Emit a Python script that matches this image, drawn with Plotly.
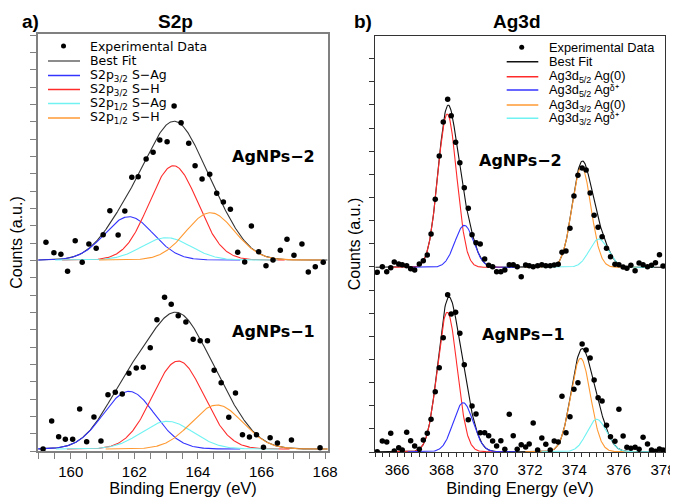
import numpy as np
import plotly.graph_objects as go

# ---------------- data: S2p (left panel) ----------------
s2p_be_np2 = [159.22, 159.47, 159.69, 159.90, 160.14, 160.36, 160.57, 160.80, 161.02, 161.23,
              161.49, 161.70, 161.92, 162.12, 162.37, 162.59, 162.80, 163.03, 163.25, 163.47,
              163.71, 163.91, 164.13, 164.37, 164.59, 164.80, 165.02, 165.25, 165.47, 165.68,
              165.91, 166.14, 166.36, 166.59, 166.80, 167.02, 167.27, 167.47, 167.69, 167.94]
s2p_cnt_np2 = [17.7, 7.3, 5.7, -11.3, 19.3, -2.3, 16, 11.7, 25.3, 49.3,
               25, 49, 82.7, 83.3, 101, 107.7, 120, 118.3, 154, 137.3,
               116.7, 94.3, 81, 85.7, 66.7, 58, 50.7, 7.7, -2, 34,
               8.3, -5.7, 0, 9.7, 20.7, 4.7, 16, -12, -6.7, -2.3]
s2p_be_np1 = [159.13, 159.40, 159.62, 159.83, 160.06, 160.28, 160.50, 160.73, 160.95, 161.17,
              161.40, 161.62, 161.83, 162.06, 162.28, 162.50, 162.71, 162.95, 163.16, 163.38,
              163.62, 163.85, 164.07, 164.30, 164.51, 164.73, 164.97, 165.18, 165.40, 165.62,
              165.84, 166.06, 166.27, 166.50, 166.94, 167.84]
s2p_cnt_np1 = [0, 28, 12.3, 9.7, 9.7, 40, 7.3, 32, 8, 54.3,
               56.7, 55, 75.7, 81, 81.7, 101.3, 129.3, 151.7, 144.7, 133.3,
               127, 109.7, 108.3, 108.3, 78.7, 66.3, 31.7, 56, 14.3, 12,
               14.3, 1.7, 11.3, 6, 9, 1.3]

s2p_comp_names = ["S2p<sub>3/2</sub> S−Ag", "S2p<sub>3/2</sub> S−H",
                  "S2p<sub>1/2</sub> S−Ag", "S2p<sub>1/2</sub> S−H"]
s2p_np2_centers = [161.83, 163.23, 163.01, 164.39]
s2p_np2_heights = [43.3, 94.3, 22.3, 47.3]
s2p_np2_fwhm = 1.8
s2p_np1_centers = [161.83, 163.38, 163.04, 164.60]
s2p_np1_heights = [57.7, 88.0, 27.7, 44.0]
s2p_np1_fwhm = 1.9

# ---------------- data: Ag3d (right panel) ----------------
ag_be = [365.10, 365.33, 365.53, 365.71, 365.87, 366.07, 366.23, 366.43, 366.61, 366.79,
         367.00, 367.18, 367.36, 367.53, 367.72, 367.90, 368.08, 368.28, 368.44, 368.64,
         368.83, 369.03, 369.21, 369.38, 369.56, 369.75, 369.95, 370.13, 370.31, 370.49,
         370.68, 370.86, 371.06, 371.24, 371.42, 371.60, 371.80, 371.96, 372.14, 372.34,
         372.53, 372.71, 372.91, 373.09, 373.27, 373.44, 373.62, 373.80, 373.98, 374.16,
         374.35, 374.53, 374.71, 374.89, 375.07, 375.25, 375.45, 375.63, 375.83, 376.01,
         376.20, 376.37, 376.55, 376.74, 376.92, 377.10, 377.30, 377.48, 377.66, 377.84,
         378.00]
ag_cnt_np2 = [-5, 0.6, -4.4, -0.4, 5.3, 3.3, 2.6, 1.6, -1.4, -2.7,
              3.3, 6.6, 12.3, 33.3, 68, 111.3, 145.3, 168, 151.6, 125,
              104.6, 79.6, 59, 32.6, 24.6, 23.3, 8.3, 2, 0.6, -4.4,
              -4.4, -2.7, 2.6, 2.6, 0.6, -9.4, 2.3, 1.6, 0.6, 1.6,
              2.6, 1.6, 1.6, 2.3, 3, 15, 16.3, 39, 71.3, 92,
              99.3, 97.3, 74.3, 52, 40, 30.6, 19, 10.6, 3, 2.6,
              0.3, -1, 2, -3.4, 4.3, 2.6, 0.6, 2, 4.6, 12.6,
              1.3]
ag_cnt_np1 = [0, 10.7, 9.7, 18.4, 0.7, 4, 1.7, 19.4, 11, 5.7,
              2.4, 11.7, 18.4, 32.4, 60, 84, 114, 157, 137.7, 139.4,
              118.4, 87, 32, 45.7, 37.7, 19, 19, 16, 10.7, 5.7,
              11, 2.4, 37.4, 16, 2.4, 7, 4.7, 7.7, 28.7, 1.7,
              13.7, 7.4, 1.7, 10.7, 9.7, 55.4, 19, 35, 62.4, 69,
              107.7, 101.7, 93.7, 71.7, 54, 50.7, 26.4, 15, 10.4, 42.4,
              15.7, 4.4, 3.4, 4.4, 2.4, 14.4, 7.7, 1.7, 0.5, 2.7,
              1.7]

ag_comp_names = ["Ag3d<sub>5/2</sub> Ag(0)", "Ag3d<sub>5/2</sub> Agᵟ⁺",
                 "Ag3d<sub>3/2</sub> Ag(0)", "Ag3d<sub>3/2</sub> Agᵟ⁺"]
ag_np2_centers = [368.26, 369.03, 374.32, 375.10]
ag_np2_heights = [153.3, 42.0, 100.6, 28.3]
ag_np2_fwhm = 1.0
ag_np1_centers = [368.26, 368.98, 374.28, 375.01]
ag_np1_heights = [139.4, 49.0, 93.4, 32.4]
ag_np1_fwhm = 1.05

sample_names = ["AgNPs−1", "AgNPs−2"]

# ---------------- styling ----------------
# the page body adds an 8 px margin, so the figure covers reference pixels 8..678 x 8..497
OFFS = 8
W, H = 678 - OFFS, 497 - OFFS
BLUE, RED, CYAN, ORANGE = "#3434ff", "#ff2b2b", "#70f2f2", "#ff9a33"
s2p_colors = [BLUE, RED, CYAN, ORANGE]
ag_colors = [RED, BLUE, ORANGE, CYAN]
S2P_OFF = {"np1": 2.0, "np2": 191.0}
AG_OFF = {"np1": 0.3, "np2": 184.7}
S2P_XR = [158.97, 168.09]
AG_XR = [365.0, 378.09]


def gauss(x, c, h, fwhm):
    s = fwhm / 2.3548
    return h * np.exp(-(x - c) ** 2 / (2 * s * s))


fig = go.Figure()


def add_spectrum(xa, ya, be, cnt, centers, heights, fwhm, colors, off, xr, span, fitcolor):
    xf = np.linspace(xr[0] + 0.02, xr[1] - 0.02, 600)
    total = np.zeros_like(xf)
    for c, h in zip(centers, heights):
        total += gauss(xf, c, h, fwhm)
    fig.add_trace(go.Scatter(x=xf, y=total + off, mode="lines", xaxis=xa, yaxis=ya,
                             line=dict(color=fitcolor, width=1.1), showlegend=False,
                             hoverinfo="skip"))
    for c, h, col in zip(centers, heights, colors):
        xc = np.linspace(max(xr[0], c - span), min(xr[1], c + span), 300)
        fig.add_trace(go.Scatter(x=xc, y=gauss(xc, c, h, fwhm) + off, mode="lines",
                                 xaxis=xa, yaxis=ya, line=dict(color=col, width=1.1),
                                 showlegend=False, hoverinfo="skip"))
    fig.add_trace(go.Scatter(x=be, y=[v + off for v in cnt], mode="markers",
                             xaxis=xa, yaxis=ya, marker=dict(color="black", size=5.5),
                             showlegend=False))


add_spectrum("x", "y", s2p_be_np2, s2p_cnt_np2, s2p_np2_centers, s2p_np2_heights, s2p_np2_fwhm,
             s2p_colors, S2P_OFF["np2"], S2P_XR, 3.5, "#333333")
add_spectrum("x", "y", s2p_be_np1, s2p_cnt_np1, s2p_np1_centers, s2p_np1_heights, s2p_np1_fwhm,
             s2p_colors, S2P_OFF["np1"], S2P_XR, 3.5, "#333333")
add_spectrum("x2", "y2", ag_be, ag_cnt_np2, ag_np2_centers, ag_np2_heights, ag_np2_fwhm,
             ag_colors, AG_OFF["np2"], AG_XR, 2.5, "#111111")
add_spectrum("x2", "y2", ag_be, ag_cnt_np1, ag_np1_centers, ag_np1_heights, ag_np1_fwhm,
             ag_colors, AG_OFF["np1"], AG_XR, 2.5, "#111111")


def px(x):
    return (x - OFFS) / W


def py(y):
    return 1 - (y - OFFS) / H


ARIAL = "Liberation Sans, Arial, sans-serif"
DEJAVU = "DejaVu Sans, Verdana, sans-serif"

axis_common = dict(showgrid=False, zeroline=False, mirror=True, showline=True,
                   ticks="outside", automargin=False)
fig.update_layout(
    template="none",
    width=W, height=H, margin=dict(l=0, r=0, t=0, b=0, autoexpand=False),
    paper_bgcolor="white", plot_bgcolor="white", showlegend=False,
    xaxis=dict(domain=[px(38), px(328)], range=S2P_XR, anchor="y",
               linecolor="#808080", linewidth=1.5, tickcolor="#808080", ticklen=6,
               tick0=160, dtick=2, tickfont=dict(family=ARIAL, size=15, color="black"),
               minor=dict(dtick=0.5, tick0=160, ticks="outside", ticklen=6, tickcolor="#808080"),
               title=dict(text="Binding Energy (eV)", font=dict(family=ARIAL, size=16.5, color="black"),
                          standoff=2),
               **axis_common),
    yaxis=dict(domain=[py(451), py(34)], range=[0, 417], anchor="x",
               linecolor="#808080", linewidth=1.5, tickcolor="#808080", ticklen=6,
               tick0=0, dtick=17.33, showticklabels=False,
               title=dict(text="Counts (a.u.)", font=dict(family=ARIAL, size=16, color="black"),
                          standoff=6),
               **axis_common),
    xaxis2=dict(domain=[px(375), px(665)], range=AG_XR, anchor="y2",
                linecolor="#333333", linewidth=1, tickcolor="#333333", ticklen=4,
                tick0=366, dtick=2, tickfont=dict(family=ARIAL, size=15, color="black"),
                minor=dict(dtick=1 / 3, tick0=366, ticks="outside", ticklen=4, tickcolor="#333333"),
                title=dict(text="Binding Energy (eV)", font=dict(family=ARIAL, size=16.5, color="black"),
                           standoff=7),
                **axis_common),
    yaxis2=dict(domain=[py(452), py(36)], range=[0, 416], anchor="x2",
                linecolor="#333333", linewidth=1, tickcolor="#333333", ticklen=5,
                tick0=0, dtick=23.14, showticklabels=False,
                title=dict(text="Counts (a.u.)", font=dict(family=ARIAL, size=16, color="black"),
                           standoff=4),
                **axis_common),
)

ann = []
# panel labels and titles
for txt, x, y in [("a)", 30, 22), ("b)", 362.5, 22), ("S2p", 175, 22), ("Ag3d", 516.7, 22)]:
    ann.append(dict(text="<b>" + txt + "</b>", x=px(x), y=py(y), xref="paper", yref="paper",
                    xanchor="center", yanchor="middle", showarrow=False,
                    font=dict(family=ARIAL, size=19, color="black")))
# sample labels
for txt, x, y in [(sample_names[1], 273.5, 157), (sample_names[0], 273.5, 331),
                  (sample_names[1], 520.5, 160), (sample_names[0], 523.5, 334)]:
    ann.append(dict(text="<b>" + txt + "</b>", x=px(x), y=py(y), xref="paper", yref="paper",
                    xanchor="center", yanchor="middle", showarrow=False,
                    font=dict(family=DEJAVU, size=16, color="black")))

shapes = []


def legend(rows_y, dot_x, line_x0, line_x1, text_x, names, colors, fitcolor, family, size):
    labels = ["Experimental Data", "Best Fit"] + names
    for i, (lab, yy) in enumerate(zip(labels, rows_y)):
        ann.append(dict(text=lab, x=px(text_x), y=py(yy), xref="paper", yref="paper",
                        xanchor="left", yanchor="middle", showarrow=False,
                        font=dict(family=family, size=size, color="black")))
        if i == 0:
            shapes.append(dict(type="circle", xref="paper", yref="paper",
                               x0=px(dot_x - 2.5), x1=px(dot_x + 2.5),
                               y0=py(yy + 2.5), y1=py(yy - 2.5),
                               fillcolor="black", line=dict(width=0)))
        else:
            col = fitcolor if i == 1 else colors[i - 2]
            shapes.append(dict(type="line", xref="paper", yref="paper",
                               x0=px(line_x0), x1=px(line_x1), y0=py(yy), y1=py(yy),
                               line=dict(color=col, width=1.5)))


legend([46, 61, 75.5, 89.5, 103.5, 118], 63.5, 48, 80, 88, s2p_comp_names, s2p_colors,
       "#666666", DEJAVU, 12.5)
legend([47.3, 61.7, 76.7, 90, 105, 118.3], 521.7, 506.7, 538.3, 546.7, ag_comp_names, ag_colors,
       "#111111", ARIAL, 12.8)

fig.update_layout(annotations=ann, shapes=shapes)
fig.write_html("out.html")
